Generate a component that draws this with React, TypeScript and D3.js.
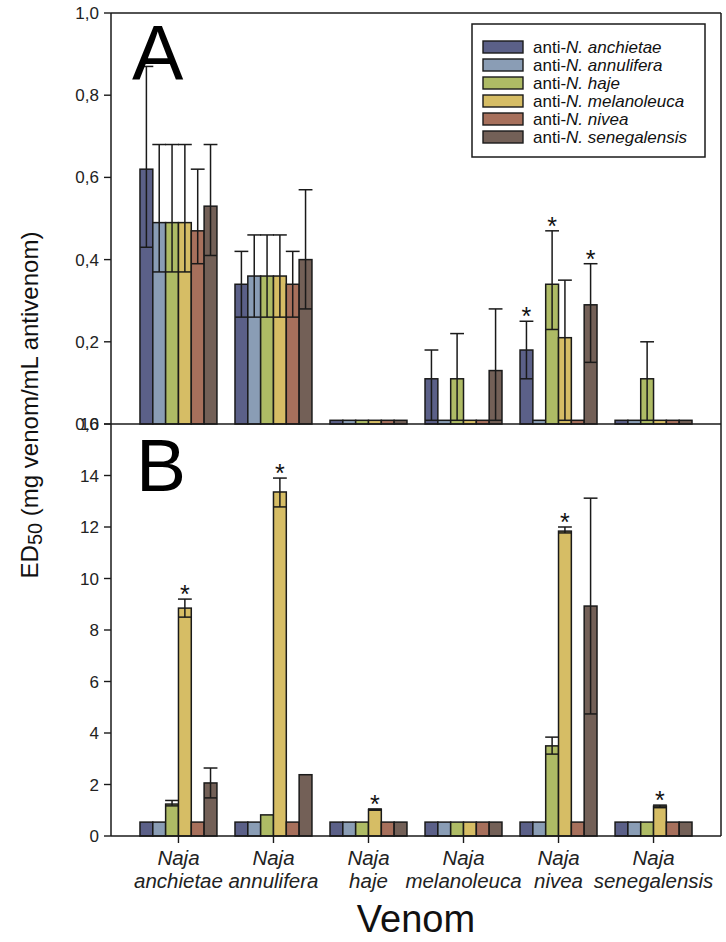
import React from "react";
import * as d3 from "d3";

const venoms = ["anchietae", "annulifera", "haje", "melanoleuca", "nivea", "senegalensis"];
const antivenoms = ["anchietae", "annulifera", "haje", "melanoleuca", "nivea", "senegalensis"];
const colors = ["#5b6088", "#8a9db5", "#aebb65", "#d6bd65", "#a7705c", "#736057"];

const topTicks = [0, 0.2, 0.4, 0.6, 0.8, 1.0];
const bottomTicks = [0, 2, 4, 6, 8, 10, 12, 14, 16];

// Panel A (rows: venom, cols: antivenom)
const topMean = [
  [0.62, 0.49, 0.49, 0.49, 0.47, 0.53],
  [0.34, 0.36, 0.36, 0.36, 0.34, 0.40],
  [0.009, 0.009, 0.009, 0.009, 0.009, 0.009],
  [0.11, 0.009, 0.11, 0.009, 0.009, 0.13],
  [0.18, 0.009, 0.34, 0.21, 0.009, 0.29],
  [0.009, 0.009, 0.11, 0.009, 0.009, 0.009],
];
const topLo = [
  [0.43, 0.37, 0.37, 0.37, 0.39, 0.41],
  [0.26, 0.26, 0.26, 0.26, 0.26, 0.28],
  [null, null, null, null, null, null],
  [0.009, null, 0.009, null, null, 0.009],
  [0.11, null, 0.23, 0.009, null, 0.15],
  [null, null, 0.009, null, null, null],
];
const topHi = [
  [0.87, 0.68, 0.68, 0.68, 0.62, 0.68],
  [0.42, 0.46, 0.46, 0.46, 0.42, 0.57],
  [null, null, null, null, null, null],
  [0.18, null, 0.22, null, null, 0.28],
  [0.25, null, 0.47, 0.35, null, 0.39],
  [null, null, 0.20, null, null, null],
];
const topStar = [
  [0, 0, 0, 0, 0, 0],
  [0, 0, 0, 0, 0, 0],
  [0, 0, 0, 0, 0, 0],
  [0, 0, 0, 0, 0, 0],
  [1, 0, 1, 0, 0, 1],
  [0, 0, 0, 0, 0, 0],
];

// Panel B
const botMean = [
  [0.54, 0.54, 1.24, 8.85, 0.54, 2.06],
  [0.54, 0.54, 0.82, 13.36, 0.54, 2.38],
  [0.54, 0.54, 0.54, 1.03, 0.54, 0.54],
  [0.54, 0.54, 0.54, 0.54, 0.54, 0.54],
  [0.54, 0.54, 3.5, 11.84, 0.54, 8.93],
  [0.54, 0.54, 0.54, 1.16, 0.54, 0.54],
];
const botLo = [
  [null, null, 1.17, 8.5, null, 1.48],
  [null, null, null, 12.78, null, null],
  [null, null, null, 1.0, null, null],
  [null, null, null, null, null, null],
  [null, null, 3.18, 11.77, null, 4.74],
  [null, null, null, 1.1, null, null],
];
const botHi = [
  [null, null, 1.38, 9.2, null, 2.64],
  [null, null, null, 13.9, null, null],
  [null, null, null, 1.05, null, null],
  [null, null, null, null, null, null],
  [null, null, 3.84, 12.0, null, 13.12],
  [null, null, null, 1.2, null, null],
];
const botStar = [
  [0, 0, 0, 1, 0, 0],
  [0, 0, 0, 1, 0, 0],
  [0, 0, 0, 1, 0, 0],
  [0, 0, 0, 0, 0, 0],
  [0, 0, 0, 1, 0, 0],
  [0, 0, 0, 1, 0, 0],
];

const FONT = "'Liberation Sans', Arial, Helvetica, sans-serif";
const STROKE = "#1a1a1a";

export default function App() {
  const W = 726, H = 942;
  const L = 111, R = 721, T = 13, M = 424, B = 836;

  const x0 = d3.scaleBand<string>().domain(venoms).range([L, R]).paddingInner(0.19).paddingOuter(0.305);
  const x1 = d3.scaleBand<string>().domain(antivenoms).range([0, x0.bandwidth()]);
  const yTop = d3.scaleLinear().domain([0, 1]).range([M, T]);
  const yBot = d3.scaleLinear().domain([0, 16]).range([B, M]);
  const bw = x1.bandwidth();

  const panel = (
    mean: number[][],
    lo: (number | null)[][],
    hi: (number | null)[][],
    star: number[][],
    y: d3.ScaleLinear<number, number>,
    key: string
  ) => {
    const bars: React.ReactNode[] = [];
    const errs: React.ReactNode[] = [];
    venoms.forEach((v, i) => {
      antivenoms.forEach((a, j) => {
        const bx = (x0(v) as number) + (x1(a) as number);
        const val = mean[i][j];
        bars.push(
          <rect
            key={`${key}b${i}${j}`}
            x={bx}
            y={y(val)}
            width={bw}
            height={y(0) - y(val)}
            fill={colors[j]}
            stroke={STROKE}
            strokeWidth={1.5}
          />
        );
        const l = lo[i][j];
        const h = hi[i][j];
        const cx = bx + bw / 2;
        if (l !== null && h !== null) {
          errs.push(
            <g key={`${key}e${i}${j}`} stroke={STROKE} strokeWidth={1.5}>
              <line x1={cx} x2={cx} y1={y(l)} y2={y(h)} />
              <line x1={cx - bw / 2 - 0.5} x2={cx + bw / 2 + 0.5} y1={y(h)} y2={y(h)} />
              <line x1={bx} x2={bx + bw} y1={y(l)} y2={y(l)} />
            </g>
          );
        }
        if (star[i][j]) {
          const top = h !== null ? y(h) : y(val);
          errs.push(
            <text
              key={`${key}s${i}${j}`}
              x={cx}
              y={top + 4}
              textAnchor="middle"
              fontSize={25}
              fontFamily={FONT}
              fill="#111"
            >
              *
            </text>
          );
        }
      });
    });
    return (
      <g>
        {bars}
        {errs}
      </g>
    );
  };

  const fmtTop = (d: number) => d3.format(".1f")(d).replace(".", ",");

  return (
    <svg
      width={W}
      height={H}
      style={{ position: "absolute", left: 0, top: 0, background: "#fff" }}
      fontFamily={FONT}
    >
      <rect x={0} y={0} width={W} height={H} fill="#fff" />

      {panel(topMean, topLo, topHi, topStar, yTop, "t")}
      {panel(botMean, botLo, botHi, botStar, yBot, "b")}

      {/* frame */}
      <g stroke={STROKE} strokeWidth={1.5} fill="none">
        <line x1={L} x2={R} y1={T} y2={T} />
        <line x1={R} x2={R} y1={T} y2={B} />
        <line x1={L} x2={L} y1={T} y2={B} />
        <line x1={L} x2={R} y1={M} y2={M} />
        <line x1={L} x2={R} y1={B} y2={B} />
      </g>

      {/* top y ticks */}
      {topTicks.map((t) => (
        <g key={`tt${t}`}>
          <line x1={L - 7} x2={L} y1={yTop(t)} y2={yTop(t)} stroke={STROKE} strokeWidth={1.4} />
          <text x={99} y={yTop(t) + 6} textAnchor="end" fontSize={17} fill="#222">
            {fmtTop(t)}
          </text>
        </g>
      ))}
      {/* bottom y ticks */}
      {bottomTicks.map((t) => (
        <g key={`bt${t}`}>
          <line x1={L - 7} x2={L} y1={yBot(t)} y2={yBot(t)} stroke={STROKE} strokeWidth={1.4} />
          <text x={99} y={yBot(t) + 6} textAnchor="end" fontSize={17} fill="#222">
            {t}
          </text>
        </g>
      ))}

      {/* x ticks and category labels */}
      {venoms.map((v) => {
        const cx = (x0(v) as number) + x0.bandwidth() / 2;
        return (
          <g key={`xc${v}`}>
            <line x1={cx} x2={cx} y1={B} y2={B + 7} stroke={STROKE} strokeWidth={1.4} />
            <text x={cx} y={865} textAnchor="middle" fontSize={20.5} fontStyle="italic" fill="#222">
              Naja
            </text>
            <text x={cx} y={888} textAnchor="middle" fontSize={20.5} fontStyle="italic" fill="#222">
              {v}
            </text>
          </g>
        );
      })}

      {/* panel letters */}
      <text x={132} y={80} fontSize={77} fill="#000">A</text>
      <text x={136} y={491} fontSize={75} fill="#000">B</text>

      {/* axis titles */}
      <text x={(L + R) / 2} y={932} textAnchor="middle" fontSize={38} fill="#111">
        Venom
      </text>
      <text
        transform={`translate(38, 405) rotate(-90)`}
        textAnchor="middle"
        fontSize={24}
        fill="#111"
      >
        ED<tspan fontSize={20} dy={4}>50</tspan>
        <tspan dy={-4}> (mg venom/mL antivenom)</tspan>
      </text>

      {/* legend */}
      <rect x={472} y={24} width={233} height={133} fill="#fff" stroke={STROKE} strokeWidth={1.5} />
      {antivenoms.map((a, j) => {
        const cy = 47 + j * 18;
        return (
          <g key={`lg${a}`}>
            <rect x={483} y={cy - 6} width={40} height={12} fill={colors[j]} stroke={STROKE} strokeWidth={1.4} />
            <text x={533} y={cy + 6} fontSize={17} fill="#111">
              anti-<tspan fontStyle="italic">N. {a}</tspan>
            </text>
          </g>
        );
      })}
    </svg>
  );
}
